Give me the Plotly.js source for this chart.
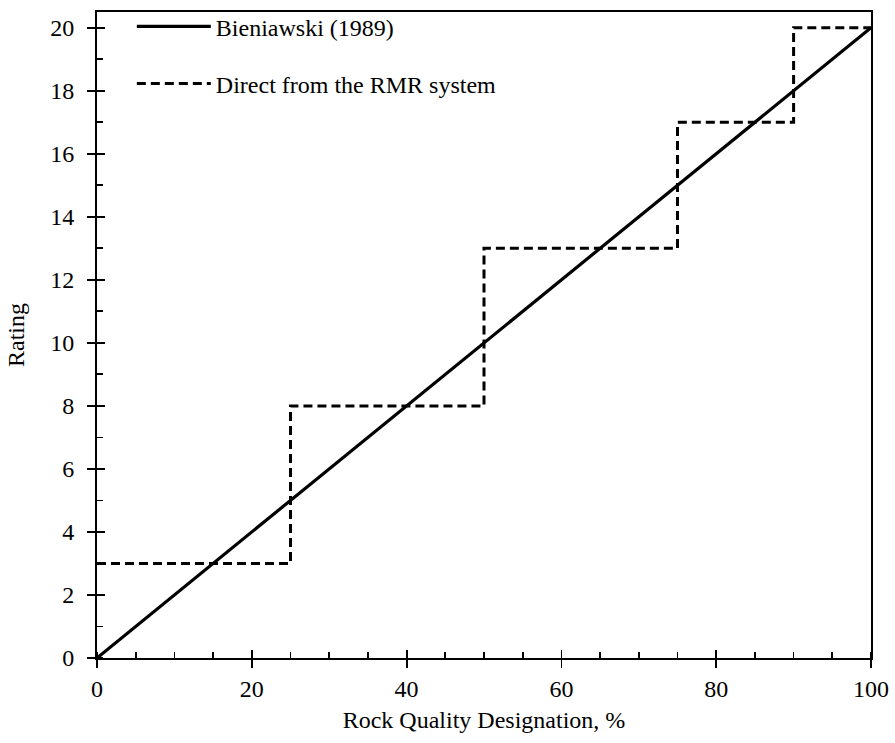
<!DOCTYPE html>
<html>
<head>
<meta charset="utf-8">
<script src="https://cdn.plot.ly/plotly-3.0.1.min.js"></script>
<style>
  html, body { margin: 0; padding: 0; background: #fff; }
  #chart { width: 895px; height: 743px; }
</style>
</head>
<body>
<div id="chart"></div>
<script>
// Bieniawski (1989) linear rating vs RQD
const linearRQD = [0, 100];
const linearRating = [0, 20];

// Step ratings taken directly from the RMR classification table
const stepRQD = [0, 25, 50, 75, 90, 100];
const stepRating = [3, 8, 13, 17, 20, 20];

const seriesNames = ['Bieniawski (1989)', 'Direct from the RMR system'];

const FONT = '"Liberation Serif"';

const traces = [
  {
    x: linearRQD, y: linearRating, mode: 'lines', name: seriesNames[0],
    line: { color: '#000', width: 3.2 }, legendgroup: 'a'
  },
  {
    x: stepRQD, y: stepRating, mode: 'lines', name: seriesNames[1],
    line: { color: '#000', width: 3, dash: '9px,5px', shape: 'hv' }, legendgroup: 'b'
  },
  // carrier trace for the overlay axes that draw the inward half of the major ticks
  { x: linearRQD, y: linearRating, xaxis: 'x2', yaxis: 'y2', mode: 'lines',
    line: { width: 0, color: 'rgba(0,0,0,0)' }, showlegend: false, hoverinfo: 'skip' }
];

const baseAxis = {
  showgrid: false, zeroline: false,
  showline: true, linecolor: '#000', linewidth: 2,
  ticks: 'outside', ticklen: 8, tickwidth: 1.8, tickcolor: '#000',
  tickfont: { family: FONT, size: 24, color: '#000' }
};

const layout = {
  width: 895, height: 743,
  margin: { l: 97, r: 24, t: 12, b: 85, autoexpand: false },
  paper_bgcolor: '#fff', plot_bgcolor: '#fff',
  font: { family: FONT, color: '#000' },
  showlegend: true,
  legend: {
    x: 0.045, y: 1.012, xanchor: 'left', yanchor: 'top',
    bgcolor: 'rgba(0,0,0,0)', borderwidth: 0,
    font: { family: FONT, size: 24, color: '#000' },
    itemwidth: 74, traceorder: 'grouped', tracegroupgap: 23
  },
  xaxis: Object.assign({}, baseAxis, {
    range: [0, 100], dtick: 20, mirror: true,
    minor: { dtick: 5, ticks: 'inside', ticklen: 6, tickwidth: 1.8, tickcolor: '#000', showgrid: false },
    title: { text: 'Rock Quality Designation, %', font: { family: FONT, size: 24, color: '#000' }, standoff: 10 }
  }),
  yaxis: Object.assign({}, baseAxis, {
    range: [0, 20.5], dtick: 2, mirror: true, ticklabelstandoff: 8,
    minor: { dtick: 1, ticks: 'inside', ticklen: 6, tickwidth: 1.8, tickcolor: '#000', showgrid: false },
    title: { text: 'Rating', font: { family: FONT, size: 24, color: '#000' }, standoff: 19 }
  }),
  xaxis2: {
    overlaying: 'x', anchor: 'y', side: 'bottom', range: [0, 100], dtick: 20,
    showgrid: false, zeroline: false, showline: false, showticklabels: false,
    ticks: 'inside', ticklen: 8, tickwidth: 1.8, tickcolor: '#000'
  },
  yaxis2: {
    overlaying: 'y', anchor: 'x', side: 'left', range: [0, 20.5], dtick: 2,
    showgrid: false, zeroline: false, showline: false, showticklabels: false,
    ticks: 'inside', ticklen: 8, tickwidth: 1.8, tickcolor: '#000'
  }
};

Plotly.newPlot('chart', traces, layout, { displayModeBar: false, staticPlot: true });
</script>
</body>
</html>
